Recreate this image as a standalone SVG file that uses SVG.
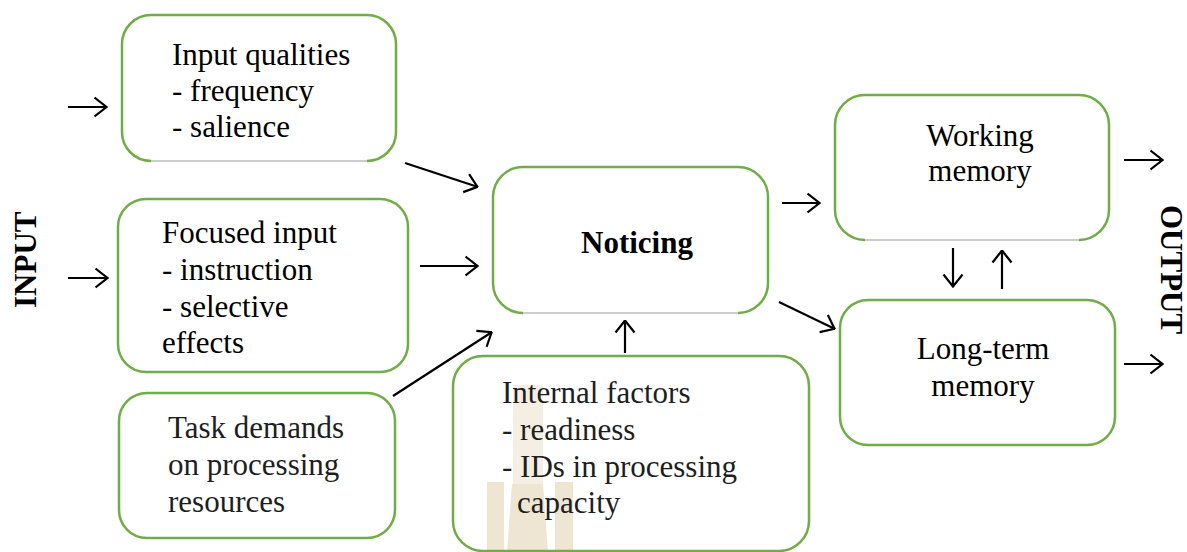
<svg xmlns="http://www.w3.org/2000/svg" width="1187" height="552" viewBox="0 0 1187 552">
  <style>
    .box { fill: none; stroke: #70ad47; stroke-width: 2.5; }
    .base { stroke: #9a9a9a; stroke-width: 1; }
    .txt { font-family: "Liberation Serif", "Times New Roman", serif; font-size: 31px; fill: #000; }
    .soft { fill: #1e1e1e; }
    .mid { text-anchor: middle; }
    .bold { font-weight: bold; }
    .conn { stroke: #000; stroke-width: 2.2; fill: none; marker-end: url(#head); }
    .mark { fill: #eee5d3; }
    .mark-faint { fill: #f4eee3; }
  </style>
  <defs>
    <marker id="head" viewBox="0 0 14 22" refX="13.5" refY="11" markerWidth="14" markerHeight="22" markerUnits="userSpaceOnUse" orient="auto">
      <path d="M1,1.5 L13,11 L1,20.5" fill="none" stroke="#000" stroke-width="2.2"/>
    </marker>
  </defs>

  <rect width="1187" height="552" fill="#fff"/>

  <!-- side labels -->
  <text class="txt bold" transform="translate(36,308) rotate(-90)">INPUT</text>
  <text class="txt bold" transform="translate(1161,205) rotate(90)">OUTPUT</text>

  <!-- Input qualities -->
  <g id="input-qualities">
    <path class="box" d="M151,161 A29,29 0 0 1 122,132 L122,44 A29,29 0 0 1 151,15 L367,15 A29,29 0 0 1 396,44 L396,132 A29,29 0 0 1 367,161"/>
    <line class="base" x1="151" y1="161" x2="367" y2="161"/>
    <text class="txt" x="172" y="65">Input qualities</text>
    <text class="txt" x="172" y="101">- frequency</text>
    <text class="txt" x="172" y="137">- salience</text>
  </g>

  <!-- Focused input -->
  <g id="focused-input">
    <rect class="box" x="118" y="199" width="290" height="173" rx="28" ry="28"/>
    <text class="txt" x="162" y="243">Focused input</text>
    <text class="txt" x="162" y="280">- instruction</text>
    <text class="txt" x="162" y="317">- selective</text>
    <text class="txt" x="162" y="353">effects</text>
  </g>

  <!-- Task demands -->
  <g id="task-demands">
    <rect class="box" x="119" y="393" width="276" height="145" rx="28" ry="28"/>
    <text class="txt soft" x="168" y="438">Task demands</text>
    <text class="txt soft" x="168" y="475">on processing</text>
    <text class="txt soft" x="168" y="512">resources</text>
  </g>

  <!-- Noticing -->
  <g id="noticing">
    <path class="box" d="M523,313 A30,30 0 0 1 493,283 L493,197 A30,30 0 0 1 523,167 L738,167 A30,30 0 0 1 768,197 L768,283 A30,30 0 0 1 738,313"/>
    <line class="base" x1="523" y1="313" x2="738" y2="313"/>
    <text class="txt bold mid" x="637" y="253">Noticing</text>
  </g>

  <!-- Internal factors -->
  <g id="internal-factors">
    <g id="crest">
      <rect class="mark-faint" x="513" y="385" width="30" height="100"/>
      <rect class="mark" x="487" y="482" width="17" height="70"/>
      <path class="mark" d="M507,552 L512,484 L543,484 L548,552 Z"/>
      <rect class="mark" x="555" y="482" width="18" height="70"/>
    </g>
    <rect class="box" x="453" y="356" width="356" height="195" rx="30" ry="30"/>
    <text class="txt soft" x="502" y="403">Internal factors</text>
    <text class="txt soft" x="502" y="440">- readiness</text>
    <text class="txt soft" x="502" y="477">- IDs in processing</text>
    <text class="txt soft" x="517" y="513">capacity</text>
  </g>

  <!-- Working memory -->
  <g id="working-memory">
    <path class="box" d="M865,240 A30,30 0 0 1 835,210 L835,125 A30,30 0 0 1 865,95 L1079,95 A30,30 0 0 1 1109,125 L1109,210 A30,30 0 0 1 1079,240"/>
    <line class="base" x1="865" y1="240" x2="1079" y2="240"/>
    <text class="txt mid" x="980" y="146">Working</text>
    <text class="txt mid" x="980" y="181">memory</text>
  </g>

  <!-- Long-term memory -->
  <g id="long-term-memory">
    <rect class="box" x="840" y="300" width="275" height="145" rx="28" ry="28"/>
    <text class="txt mid" x="983" y="359">Long-term</text>
    <text class="txt mid" x="983" y="396">memory</text>
  </g>

  <!-- connectors -->
  <g id="connectors">
    <path class="conn" d="M68,107 L107,107"/>
    <path class="conn" d="M68,278 L108,278"/>
    <path class="conn" d="M405,163 L478,187"/>
    <path class="conn" d="M420,266 L478,266"/>
    <path class="conn" d="M393,396 L492,332"/>
    <path class="conn" d="M625,353 L625,320"/>
    <path class="conn" d="M782,203 L820,203"/>
    <path class="conn" d="M779,302 L835,329"/>
    <path class="conn" d="M953,248 L953,287"/>
    <path class="conn" d="M1002,289 L1002,250"/>
    <path class="conn" d="M1124,160 L1163,160"/>
    <path class="conn" d="M1124,364 L1163,364"/>
  </g>
</svg>
